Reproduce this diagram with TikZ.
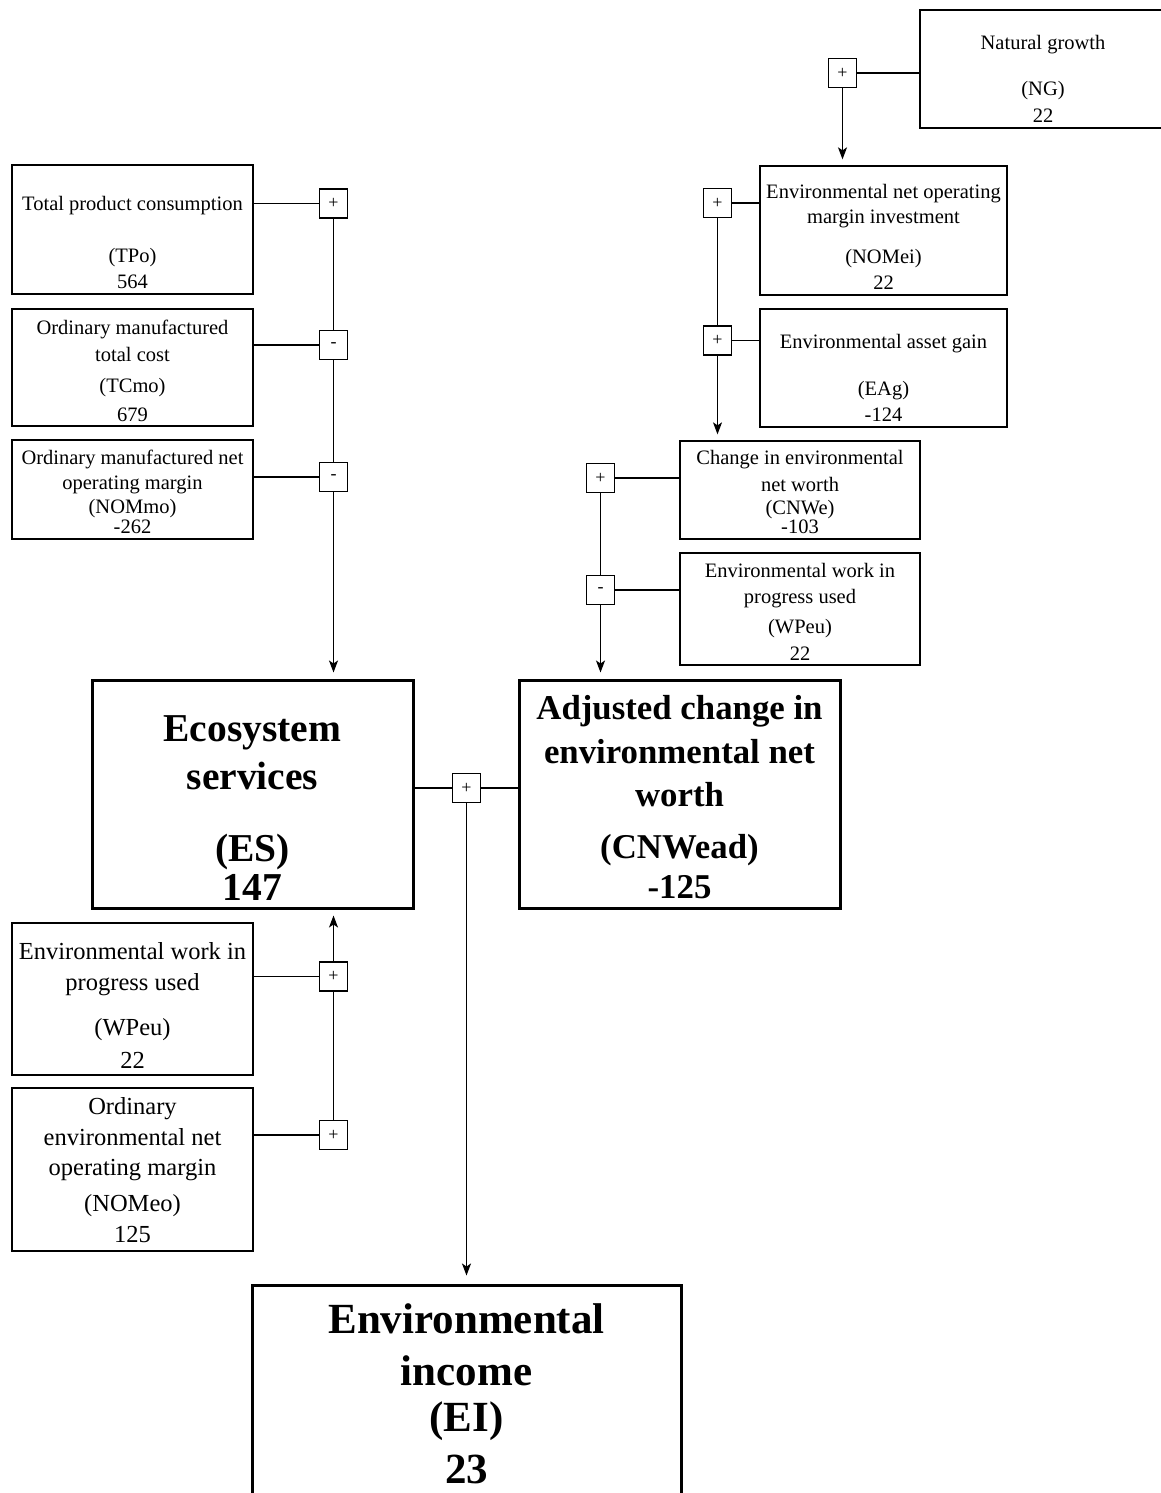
\documentclass[tikz,border=0pt]{standalone}
\usepackage{fontspec}
\setmainfont{Liberation Serif}
\usetikzlibrary{arrows.meta}
\begin{document}
\begin{tikzpicture}[x=1pt,y=-1pt,
  sbox/.style={draw, line width=1.3pt, inner sep=0pt},
  bbox/.style={draw, line width=3pt, inner sep=0pt},
  op/.style={draw, line width=1.2pt, minimum width=28pt, minimum height=29pt, inner sep=0pt, font=\fontsize{18}{18}\selectfont},
  st/.style={anchor=base, inner sep=0pt, font=\fontsize{20.5}{24}\selectfont},
  bl/.style={anchor=base, inner sep=0pt, font=\fontsize{24.5}{28}\selectfont},
  est/.style={anchor=base, inner sep=0pt, font=\fontsize{39.5}{44}\selectfont\bfseries},
  cst/.style={anchor=base, inner sep=0pt, font=\fontsize{34.8}{40}\selectfont\bfseries},
  eit/.style={anchor=base, inner sep=0pt, font=\fontsize{43}{48}\selectfont\bfseries},
  conn/.style={line width=1.2pt},
  arr/.style={line width=1.2pt, -{Stealth[length=12pt,width=9pt,inset=3pt]}}
]
\clip (0,0) rectangle (1161,1493);
\fill[white] (0,0) rectangle (1161,1493);

% ---------- boxes ----------
\node[sbox, minimum width=241pt, minimum height=129pt] (tpo) at (132.5,229.5) {};
\node[sbox, minimum width=241pt, minimum height=117pt] (tcmo) at (132.5,367.5) {};
\node[sbox, minimum width=241pt, minimum height=99pt] (nommo) at (132.5,489.5) {};
\node[sbox, minimum width=246pt, minimum height=118pt] (ng) at (1043,69) {};
\node[sbox, minimum width=247pt, minimum height=129pt] (nomei) at (883.5,230.5) {};
\node[sbox, minimum width=247pt, minimum height=118pt] (eag) at (883.5,368) {};
\node[sbox, minimum width=240pt, minimum height=98pt] (cnwe) at (800,490) {};
\node[sbox, minimum width=240pt, minimum height=112pt] (wpeur) at (800,609) {};
\node[bbox, minimum width=321pt, minimum height=228pt] (es) at (252.5,794) {};
\node[bbox, minimum width=321pt, minimum height=228pt] (cnwead) at (679.5,794) {};
\node[bbox, minimum width=429pt, minimum height=235pt] (ei) at (466.5,1402.5) {};
\node[sbox, minimum width=241pt, minimum height=152pt] (wpeul) at (132.5,999) {};
\node[sbox, minimum width=241pt, minimum height=163pt] (nomeo) at (132.5,1169.5) {};

% ---------- operator boxes ----------
\node[op] (pTPo) at (333.5,203.5) {+};
\node[op] (mTCmo) at (333.5,345) {-};
\node[op] (mNOMmo) at (333.5,477) {-};
\node[op] (pNG) at (842.5,73) {+};
\node[op] (pNOMei) at (717.5,203) {+};
\node[op] (pEAg) at (717.5,340.5) {+};
\node[op] (pCNWe) at (600.5,478) {+};
\node[op] (mWPeu) at (600.5,590) {-};
\node[op] (pMid) at (466.5,788) {+};
\node[op] (pWPeuL) at (333.5,976.5) {+};
\node[op] (pNOMeo) at (333.5,1135) {+};

% ---------- texts ----------
\node[st] (tpo1) at (132.5,210) {Total product consumption};
\node[st] (tpo2) at (132.5,262) {(TPo)};
\node[st] (tpo3) at (132.5,288) {564};

\node[st] (tcmo1) at (132.5,334) {Ordinary manufactured};
\node[st] (tcmo2) at (132.5,361) {total cost};
\node[st] (tcmo3) at (132.5,392) {(TCmo)};
\node[st] (tcmo4) at (132.5,421) {679};

\node[st] (nommo1) at (132.5,464) {Ordinary manufactured net};
\node[st] (nommo2) at (132.5,489) {operating margin};
\node[st] (nommo3) at (132.5,513) {(NOMmo)};
\node[st] (nommo4) at (132.5,533) {-262};

\node[st] (ng1) at (1043,50) {Natural growth};
\node[st] (ng2) at (1043,96) {(NG)};
\node[st] (ng3) at (1043,123) {22};

\node[st] (nomei1) at (883.5,198) {Environmental net operating};
\node[st] (nomei2) at (883.5,223) {margin investment};
\node[st] (nomei3) at (883.5,263) {(NOMei)};
\node[st] (nomei4) at (883.5,289) {22};

\node[st] (eag1) at (883.5,348) {Environmental asset gain};
\node[st] (eag2) at (883.5,395) {(EAg)};
\node[st] (eag3) at (883.5,421) {-124};

\node[st] (cnwe1) at (800,464) {Change in environmental};
\node[st] (cnwe2) at (800,491) {net worth};
\node[st] (cnwe3) at (800,514) {(CNWe)};
\node[st] (cnwe4) at (800,533) {-103};

\node[st] (wpeur1) at (800,577) {Environmental work in};
\node[st] (wpeur2) at (800,603) {progress used};
\node[st] (wpeur3) at (800,633) {(WPeu)};
\node[st] (wpeur4) at (800,660) {22};

\node[est] (es1) at (252.5,741) {Ecosystem};
\node[est] (es2) at (252.5,789) {services};
\node[est] (es3) at (252.5,861) {(ES)};
\node[est] (es4) at (252.5,900) {147};

\node[cst] (cw1) at (679.5,719) {Adjusted change in};
\node[cst] (cw2) at (679.5,763) {environmental net};
\node[cst] (cw3) at (679.5,806) {worth};
\node[cst] (cw4) at (679.5,858) {(CNWead)};
\node[cst] (cw5) at (679.5,898) {-125};

\node[eit] (ei1) at (466.5,1333) {Environmental};
\node[eit] (ei2) at (466.5,1385) {income};
\node[eit] (ei3) at (466.5,1431) {(EI)};
\node[eit] (ei4) at (466.5,1483) {23};

\node[bl] (wpeul1) at (132.5,959) {Environmental work in};
\node[bl] (wpeul2) at (132.5,990) {progress used};
\node[bl] (wpeul3) at (132.5,1035) {(WPeu)};
\node[bl] (wpeul4) at (132.5,1068) {22};

\node[bl] (nomeo1) at (132.5,1114) {Ordinary};
\node[bl] (nomeo2) at (132.5,1145) {environmental net};
\node[bl] (nomeo3) at (132.5,1175) {operating margin};
\node[bl] (nomeo4) at (132.5,1211) {(NOMeo)};
\node[bl] (nomeo5) at (132.5,1242) {125};

% ---------- connectors ----------
% left top column
\draw[conn] (tpo.east |- pTPo.west) -- (pTPo.west);
\draw[conn] (tcmo.east |- mTCmo.west) -- (mTCmo.west);
\draw[conn] (nommo.east |- mNOMmo.west) -- (mNOMmo.west);
\draw[conn] (pTPo.south) -- (mTCmo.north);
\draw[conn] (mTCmo.south) -- (mNOMmo.north);
\draw[arr] (mNOMmo.south) -- ([yshift=6pt]mNOMmo.south |- es.north);

% natural growth
\draw[conn] (ng.west |- pNG.east) -- (pNG.east);
\draw[arr] (pNG.south) -- ([yshift=6pt]pNG.south |- nomei.north);

% right column
\draw[conn] (pNOMei.east) -- (pNOMei.east -| nomei.west);
\draw[conn] (pEAg.east) -- (pEAg.east -| eag.west);
\draw[conn] (pNOMei.south) -- (pEAg.north);
\draw[arr] (pEAg.south) -- ([yshift=6pt]pEAg.south |- cnwe.north);

\draw[conn] (pCNWe.east) -- (pCNWe.east -| cnwe.west);
\draw[conn] (mWPeu.east) -- (mWPeu.east -| wpeur.west);
\draw[conn] (pCNWe.south) -- (mWPeu.north);
\draw[arr] (mWPeu.south) -- ([yshift=6pt]mWPeu.south |- cnwead.north);

% middle
\draw[conn] (es.east |- pMid.west) -- (pMid.west);
\draw[conn] (pMid.east) -- (pMid.east -| cnwead.west);
\draw[arr] (pMid.south) -- ([yshift=8pt]pMid.south |- ei.north);

% bottom left column
\draw[conn] (wpeul.east |- pWPeuL.west) -- (pWPeuL.west);
\draw[conn] (nomeo.east |- pNOMeo.west) -- (pNOMeo.west);
\draw[conn] (pNOMeo.north) -- (pWPeuL.south);
\draw[arr] (pWPeuL.north) -- ([yshift=-6pt]pWPeuL.north |- es.south);
\end{tikzpicture}
\end{document}
